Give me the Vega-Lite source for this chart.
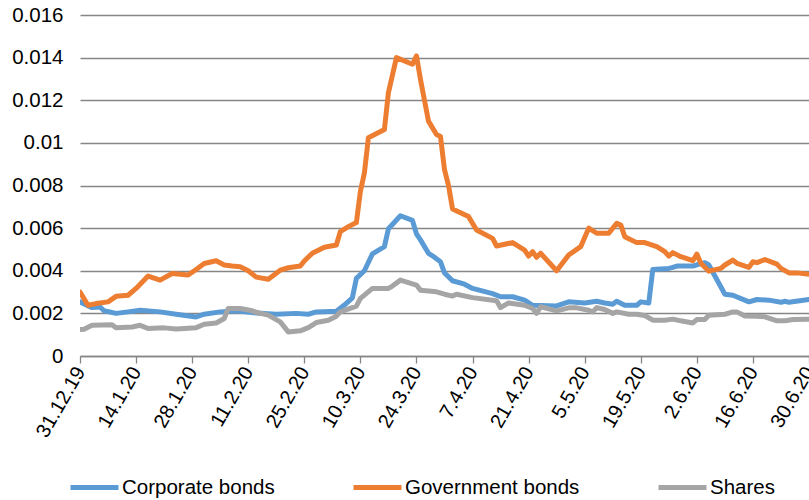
{
  "$schema": "https://vega.github.io/schema/vega-lite/v6.json",
  "autosize": "none",
  "width": 729,
  "height": 341,
  "padding": {"left": 80, "top": 15, "right": 0, "bottom": 144},
  "background": "white",
  "config": {
    "view": {"stroke": null},
    "font": "Liberation Sans"
  },
  "data": {"values": [
    {"date": "2019-12-31", "series": "Corporate bonds", "value": 0.00254},
    {"date": "2020-01-03", "series": "Corporate bonds", "value": 0.00227},
    {"date": "2020-01-05", "series": "Corporate bonds", "value": 0.0023},
    {"date": "2020-01-06", "series": "Corporate bonds", "value": 0.00212},
    {"date": "2020-01-09", "series": "Corporate bonds", "value": 0.002},
    {"date": "2020-01-12", "series": "Corporate bonds", "value": 0.00207},
    {"date": "2020-01-15", "series": "Corporate bonds", "value": 0.00215},
    {"date": "2020-01-20", "series": "Corporate bonds", "value": 0.00207},
    {"date": "2020-01-24", "series": "Corporate bonds", "value": 0.00196},
    {"date": "2020-01-29", "series": "Corporate bonds", "value": 0.00183},
    {"date": "2020-01-31", "series": "Corporate bonds", "value": 0.00196},
    {"date": "2020-02-04", "series": "Corporate bonds", "value": 0.00207},
    {"date": "2020-02-08", "series": "Corporate bonds", "value": 0.00212},
    {"date": "2020-02-13", "series": "Corporate bonds", "value": 0.00202},
    {"date": "2020-02-18", "series": "Corporate bonds", "value": 0.00196},
    {"date": "2020-02-23", "series": "Corporate bonds", "value": 0.002},
    {"date": "2020-02-26", "series": "Corporate bonds", "value": 0.00196},
    {"date": "2020-02-28", "series": "Corporate bonds", "value": 0.00207},
    {"date": "2020-03-04", "series": "Corporate bonds", "value": 0.0021},
    {"date": "2020-03-06", "series": "Corporate bonds", "value": 0.00239},
    {"date": "2020-03-08", "series": "Corporate bonds", "value": 0.00273},
    {"date": "2020-03-09", "series": "Corporate bonds", "value": 0.00364},
    {"date": "2020-03-11", "series": "Corporate bonds", "value": 0.004},
    {"date": "2020-03-13", "series": "Corporate bonds", "value": 0.00479},
    {"date": "2020-03-16", "series": "Corporate bonds", "value": 0.00513},
    {"date": "2020-03-17", "series": "Corporate bonds", "value": 0.00597},
    {"date": "2020-03-20", "series": "Corporate bonds", "value": 0.00658},
    {"date": "2020-03-23", "series": "Corporate bonds", "value": 0.00636},
    {"date": "2020-03-24", "series": "Corporate bonds", "value": 0.00573},
    {"date": "2020-03-25", "series": "Corporate bonds", "value": 0.00545},
    {"date": "2020-03-27", "series": "Corporate bonds", "value": 0.00482},
    {"date": "2020-03-28", "series": "Corporate bonds", "value": 0.0047},
    {"date": "2020-03-30", "series": "Corporate bonds", "value": 0.00442},
    {"date": "2020-03-31", "series": "Corporate bonds", "value": 0.0039},
    {"date": "2020-04-02", "series": "Corporate bonds", "value": 0.00353},
    {"date": "2020-04-05", "series": "Corporate bonds", "value": 0.00337},
    {"date": "2020-04-07", "series": "Corporate bonds", "value": 0.00317},
    {"date": "2020-04-12", "series": "Corporate bonds", "value": 0.00293},
    {"date": "2020-04-14", "series": "Corporate bonds", "value": 0.00278},
    {"date": "2020-04-17", "series": "Corporate bonds", "value": 0.00278},
    {"date": "2020-04-20", "series": "Corporate bonds", "value": 0.00262},
    {"date": "2020-04-22", "series": "Corporate bonds", "value": 0.00238},
    {"date": "2020-04-28", "series": "Corporate bonds", "value": 0.00235},
    {"date": "2020-05-01", "series": "Corporate bonds", "value": 0.00254},
    {"date": "2020-05-05", "series": "Corporate bonds", "value": 0.00249},
    {"date": "2020-05-08", "series": "Corporate bonds", "value": 0.00257},
    {"date": "2020-05-10", "series": "Corporate bonds", "value": 0.00249},
    {"date": "2020-05-12", "series": "Corporate bonds", "value": 0.00243},
    {"date": "2020-05-13", "series": "Corporate bonds", "value": 0.00257},
    {"date": "2020-05-15", "series": "Corporate bonds", "value": 0.00238},
    {"date": "2020-05-18", "series": "Corporate bonds", "value": 0.00238},
    {"date": "2020-05-19", "series": "Corporate bonds", "value": 0.00254},
    {"date": "2020-05-21", "series": "Corporate bonds", "value": 0.00249},
    {"date": "2020-05-22", "series": "Corporate bonds", "value": 0.00406},
    {"date": "2020-05-26", "series": "Corporate bonds", "value": 0.00411},
    {"date": "2020-05-27", "series": "Corporate bonds", "value": 0.00416},
    {"date": "2020-05-28", "series": "Corporate bonds", "value": 0.00422},
    {"date": "2020-06-01", "series": "Corporate bonds", "value": 0.00422},
    {"date": "2020-06-02", "series": "Corporate bonds", "value": 0.00428},
    {"date": "2020-06-04", "series": "Corporate bonds", "value": 0.00438},
    {"date": "2020-06-05", "series": "Corporate bonds", "value": 0.00427},
    {"date": "2020-06-09", "series": "Corporate bonds", "value": 0.0029},
    {"date": "2020-06-11", "series": "Corporate bonds", "value": 0.00285},
    {"date": "2020-06-15", "series": "Corporate bonds", "value": 0.00254},
    {"date": "2020-06-17", "series": "Corporate bonds", "value": 0.00265},
    {"date": "2020-06-20", "series": "Corporate bonds", "value": 0.00262},
    {"date": "2020-06-23", "series": "Corporate bonds", "value": 0.00252},
    {"date": "2020-06-24", "series": "Corporate bonds", "value": 0.00257},
    {"date": "2020-06-25", "series": "Corporate bonds", "value": 0.00252},
    {"date": "2020-06-30", "series": "Corporate bonds", "value": 0.00265},

    {"date": "2019-12-31", "series": "Government bonds", "value": 0.003},
    {"date": "2020-01-02", "series": "Government bonds", "value": 0.00238},
    {"date": "2020-01-04", "series": "Government bonds", "value": 0.00246},
    {"date": "2020-01-07", "series": "Government bonds", "value": 0.00254},
    {"date": "2020-01-09", "series": "Government bonds", "value": 0.0028},
    {"date": "2020-01-12", "series": "Government bonds", "value": 0.00285},
    {"date": "2020-01-14", "series": "Government bonds", "value": 0.00317},
    {"date": "2020-01-17", "series": "Government bonds", "value": 0.00375},
    {"date": "2020-01-20", "series": "Government bonds", "value": 0.00356},
    {"date": "2020-01-23", "series": "Government bonds", "value": 0.00387},
    {"date": "2020-01-27", "series": "Government bonds", "value": 0.0038},
    {"date": "2020-01-29", "series": "Government bonds", "value": 0.00406},
    {"date": "2020-01-31", "series": "Government bonds", "value": 0.00434},
    {"date": "2020-02-03", "series": "Government bonds", "value": 0.00447},
    {"date": "2020-02-05", "series": "Government bonds", "value": 0.00427},
    {"date": "2020-02-07", "series": "Government bonds", "value": 0.00422},
    {"date": "2020-02-09", "series": "Government bonds", "value": 0.00419},
    {"date": "2020-02-11", "series": "Government bonds", "value": 0.004},
    {"date": "2020-02-13", "series": "Government bonds", "value": 0.0037},
    {"date": "2020-02-16", "series": "Government bonds", "value": 0.0036},
    {"date": "2020-02-18", "series": "Government bonds", "value": 0.00388},
    {"date": "2020-02-19", "series": "Government bonds", "value": 0.00403},
    {"date": "2020-02-21", "series": "Government bonds", "value": 0.00414},
    {"date": "2020-02-24", "series": "Government bonds", "value": 0.00422},
    {"date": "2020-02-25", "series": "Government bonds", "value": 0.00446},
    {"date": "2020-02-27", "series": "Government bonds", "value": 0.00482},
    {"date": "2020-03-01", "series": "Government bonds", "value": 0.0051},
    {"date": "2020-03-04", "series": "Government bonds", "value": 0.00521},
    {"date": "2020-03-05", "series": "Government bonds", "value": 0.00584},
    {"date": "2020-03-07", "series": "Government bonds", "value": 0.00607},
    {"date": "2020-03-09", "series": "Government bonds", "value": 0.00626},
    {"date": "2020-03-10", "series": "Government bonds", "value": 0.00772},
    {"date": "2020-03-11", "series": "Government bonds", "value": 0.00859},
    {"date": "2020-03-12", "series": "Government bonds", "value": 0.01024},
    {"date": "2020-03-16", "series": "Government bonds", "value": 0.01063},
    {"date": "2020-03-17", "series": "Government bonds", "value": 0.01236},
    {"date": "2020-03-19", "series": "Government bonds", "value": 0.014},
    {"date": "2020-03-23", "series": "Government bonds", "value": 0.01369},
    {"date": "2020-03-24", "series": "Government bonds", "value": 0.01408},
    {"date": "2020-03-25", "series": "Government bonds", "value": 0.01298},
    {"date": "2020-03-27", "series": "Government bonds", "value": 0.01102},
    {"date": "2020-03-29", "series": "Government bonds", "value": 0.01039},
    {"date": "2020-03-30", "series": "Government bonds", "value": 0.0103},
    {"date": "2020-03-31", "series": "Government bonds", "value": 0.00874},
    {"date": "2020-04-01", "series": "Government bonds", "value": 0.008},
    {"date": "2020-04-02", "series": "Government bonds", "value": 0.0069},
    {"date": "2020-04-06", "series": "Government bonds", "value": 0.00654},
    {"date": "2020-04-08", "series": "Government bonds", "value": 0.00591},
    {"date": "2020-04-12", "series": "Government bonds", "value": 0.00552},
    {"date": "2020-04-13", "series": "Government bonds", "value": 0.00516},
    {"date": "2020-04-17", "series": "Government bonds", "value": 0.00532},
    {"date": "2020-04-20", "series": "Government bonds", "value": 0.00497},
    {"date": "2020-04-21", "series": "Government bonds", "value": 0.00469},
    {"date": "2020-04-22", "series": "Government bonds", "value": 0.0049},
    {"date": "2020-04-23", "series": "Government bonds", "value": 0.00463},
    {"date": "2020-04-24", "series": "Government bonds", "value": 0.00482},
    {"date": "2020-04-28", "series": "Government bonds", "value": 0.004},
    {"date": "2020-05-01", "series": "Government bonds", "value": 0.00474},
    {"date": "2020-05-04", "series": "Government bonds", "value": 0.00513},
    {"date": "2020-05-06", "series": "Government bonds", "value": 0.006},
    {"date": "2020-05-08", "series": "Government bonds", "value": 0.00576},
    {"date": "2020-05-11", "series": "Government bonds", "value": 0.00576},
    {"date": "2020-05-13", "series": "Government bonds", "value": 0.00623},
    {"date": "2020-05-14", "series": "Government bonds", "value": 0.00615},
    {"date": "2020-05-15", "series": "Government bonds", "value": 0.0056},
    {"date": "2020-05-18", "series": "Government bonds", "value": 0.00532},
    {"date": "2020-05-20", "series": "Government bonds", "value": 0.00532},
    {"date": "2020-05-23", "series": "Government bonds", "value": 0.00513},
    {"date": "2020-05-25", "series": "Government bonds", "value": 0.0049},
    {"date": "2020-05-26", "series": "Government bonds", "value": 0.00469},
    {"date": "2020-05-27", "series": "Government bonds", "value": 0.00485},
    {"date": "2020-05-29", "series": "Government bonds", "value": 0.00466},
    {"date": "2020-06-01", "series": "Government bonds", "value": 0.00447},
    {"date": "2020-06-02", "series": "Government bonds", "value": 0.00478},
    {"date": "2020-06-03", "series": "Government bonds", "value": 0.00435},
    {"date": "2020-06-05", "series": "Government bonds", "value": 0.00398},
    {"date": "2020-06-08", "series": "Government bonds", "value": 0.00411},
    {"date": "2020-06-09", "series": "Government bonds", "value": 0.00427},
    {"date": "2020-06-11", "series": "Government bonds", "value": 0.0045},
    {"date": "2020-06-12", "series": "Government bonds", "value": 0.00435},
    {"date": "2020-06-15", "series": "Government bonds", "value": 0.00416},
    {"date": "2020-06-16", "series": "Government bonds", "value": 0.00442},
    {"date": "2020-06-17", "series": "Government bonds", "value": 0.00438},
    {"date": "2020-06-19", "series": "Government bonds", "value": 0.00453},
    {"date": "2020-06-22", "series": "Government bonds", "value": 0.00431},
    {"date": "2020-06-23", "series": "Government bonds", "value": 0.00411},
    {"date": "2020-06-25", "series": "Government bonds", "value": 0.0039},
    {"date": "2020-06-27", "series": "Government bonds", "value": 0.0039},
    {"date": "2020-06-30", "series": "Government bonds", "value": 0.00384},

    {"date": "2019-12-31", "series": "Shares", "value": 0.00124},
    {"date": "2020-01-01", "series": "Shares", "value": 0.00126},
    {"date": "2020-01-03", "series": "Shares", "value": 0.00144},
    {"date": "2020-01-08", "series": "Shares", "value": 0.00147},
    {"date": "2020-01-09", "series": "Shares", "value": 0.00133},
    {"date": "2020-01-13", "series": "Shares", "value": 0.00136},
    {"date": "2020-01-15", "series": "Shares", "value": 0.00144},
    {"date": "2020-01-17", "series": "Shares", "value": 0.00129},
    {"date": "2020-01-21", "series": "Shares", "value": 0.00132},
    {"date": "2020-01-24", "series": "Shares", "value": 0.00127},
    {"date": "2020-01-29", "series": "Shares", "value": 0.00133},
    {"date": "2020-01-31", "series": "Shares", "value": 0.00149},
    {"date": "2020-02-03", "series": "Shares", "value": 0.00155},
    {"date": "2020-02-05", "series": "Shares", "value": 0.00176},
    {"date": "2020-02-06", "series": "Shares", "value": 0.00223},
    {"date": "2020-02-09", "series": "Shares", "value": 0.00223},
    {"date": "2020-02-12", "series": "Shares", "value": 0.00212},
    {"date": "2020-02-13", "series": "Shares", "value": 0.00205},
    {"date": "2020-02-16", "series": "Shares", "value": 0.00192},
    {"date": "2020-02-19", "series": "Shares", "value": 0.0016},
    {"date": "2020-02-21", "series": "Shares", "value": 0.00113},
    {"date": "2020-02-24", "series": "Shares", "value": 0.00118},
    {"date": "2020-02-26", "series": "Shares", "value": 0.00133},
    {"date": "2020-02-28", "series": "Shares", "value": 0.00157},
    {"date": "2020-03-02", "series": "Shares", "value": 0.00168},
    {"date": "2020-03-04", "series": "Shares", "value": 0.00187},
    {"date": "2020-03-05", "series": "Shares", "value": 0.00207},
    {"date": "2020-03-09", "series": "Shares", "value": 0.00234},
    {"date": "2020-03-10", "series": "Shares", "value": 0.0027},
    {"date": "2020-03-11", "series": "Shares", "value": 0.00286},
    {"date": "2020-03-13", "series": "Shares", "value": 0.00317},
    {"date": "2020-03-17", "series": "Shares", "value": 0.00317},
    {"date": "2020-03-18", "series": "Shares", "value": 0.00328},
    {"date": "2020-03-20", "series": "Shares", "value": 0.00356},
    {"date": "2020-03-24", "series": "Shares", "value": 0.00333},
    {"date": "2020-03-25", "series": "Shares", "value": 0.00309},
    {"date": "2020-03-29", "series": "Shares", "value": 0.00301},
    {"date": "2020-03-31", "series": "Shares", "value": 0.0029},
    {"date": "2020-04-02", "series": "Shares", "value": 0.00281},
    {"date": "2020-04-03", "series": "Shares", "value": 0.0029},
    {"date": "2020-04-07", "series": "Shares", "value": 0.00274},
    {"date": "2020-04-13", "series": "Shares", "value": 0.00259},
    {"date": "2020-04-14", "series": "Shares", "value": 0.00227},
    {"date": "2020-04-16", "series": "Shares", "value": 0.00249},
    {"date": "2020-04-20", "series": "Shares", "value": 0.00238},
    {"date": "2020-04-22", "series": "Shares", "value": 0.00223},
    {"date": "2020-04-23", "series": "Shares", "value": 0.002},
    {"date": "2020-04-24", "series": "Shares", "value": 0.00231},
    {"date": "2020-04-28", "series": "Shares", "value": 0.00212},
    {"date": "2020-05-01", "series": "Shares", "value": 0.00226},
    {"date": "2020-05-03", "series": "Shares", "value": 0.00226},
    {"date": "2020-05-06", "series": "Shares", "value": 0.00215},
    {"date": "2020-05-07", "series": "Shares", "value": 0.00207},
    {"date": "2020-05-08", "series": "Shares", "value": 0.00227},
    {"date": "2020-05-10", "series": "Shares", "value": 0.00218},
    {"date": "2020-05-12", "series": "Shares", "value": 0.002},
    {"date": "2020-05-13", "series": "Shares", "value": 0.00207},
    {"date": "2020-05-16", "series": "Shares", "value": 0.00196},
    {"date": "2020-05-18", "series": "Shares", "value": 0.00196},
    {"date": "2020-05-20", "series": "Shares", "value": 0.0019},
    {"date": "2020-05-22", "series": "Shares", "value": 0.00168},
    {"date": "2020-05-25", "series": "Shares", "value": 0.00168},
    {"date": "2020-05-27", "series": "Shares", "value": 0.00173},
    {"date": "2020-05-29", "series": "Shares", "value": 0.00165},
    {"date": "2020-06-01", "series": "Shares", "value": 0.00155},
    {"date": "2020-06-02", "series": "Shares", "value": 0.00171},
    {"date": "2020-06-04", "series": "Shares", "value": 0.00171},
    {"date": "2020-06-05", "series": "Shares", "value": 0.00191},
    {"date": "2020-06-09", "series": "Shares", "value": 0.00196},
    {"date": "2020-06-11", "series": "Shares", "value": 0.00207},
    {"date": "2020-06-12", "series": "Shares", "value": 0.00207},
    {"date": "2020-06-14", "series": "Shares", "value": 0.00188},
    {"date": "2020-06-17", "series": "Shares", "value": 0.00187},
    {"date": "2020-06-19", "series": "Shares", "value": 0.00184},
    {"date": "2020-06-22", "series": "Shares", "value": 0.00165},
    {"date": "2020-06-24", "series": "Shares", "value": 0.00165},
    {"date": "2020-06-26", "series": "Shares", "value": 0.00171},
    {"date": "2020-06-30", "series": "Shares", "value": 0.00173}
  ]},
  "mark": {"type": "line", "strokeWidth": 5, "strokeJoin": "round", "strokeCap": "round", "clip": true},
  "encoding": {
    "x": {
      "field": "date",
      "type": "temporal",
      "scale": {
        "type": "utc",
        "domain": [
          {"year": 2019, "month": 12, "date": 31, "utc": true},
          {"year": 2020, "month": 6, "date": 30, "utc": true}
        ]
      },
      "axis": {
        "title": null,
        "values": [
          {"year": 2019, "month": 12, "date": 31, "utc": true},
          {"year": 2020, "month": 1, "date": 14, "utc": true},
          {"year": 2020, "month": 1, "date": 28, "utc": true},
          {"year": 2020, "month": 2, "date": 11, "utc": true},
          {"year": 2020, "month": 2, "date": 25, "utc": true},
          {"year": 2020, "month": 3, "date": 10, "utc": true},
          {"year": 2020, "month": 3, "date": 24, "utc": true},
          {"year": 2020, "month": 4, "date": 7, "utc": true},
          {"year": 2020, "month": 4, "date": 21, "utc": true},
          {"year": 2020, "month": 5, "date": 5, "utc": true},
          {"year": 2020, "month": 5, "date": 19, "utc": true},
          {"year": 2020, "month": 6, "date": 2, "utc": true},
          {"year": 2020, "month": 6, "date": 16, "utc": true},
          {"year": 2020, "month": 6, "date": 30, "utc": true}
        ],
        "labelExpr": "utcFormat(datum.value, '%-d.%-m.%y')",
        "labelAngle": -60,
        "labelAlign": "right",
        "labelBaseline": "middle",
        "labelFontSize": 20,
        "labelColor": "#000000",
        "labelPadding": 5,
        "labelOverlap": false,
        "labelBound": false,
        "labelFlush": false,
        "grid": false,
        "domainColor": "#868686",
        "domainWidth": 1.3,
        "tickColor": "#868686",
        "tickWidth": 1.3,
        "tickSize": 7
      }
    },
    "y": {
      "field": "value",
      "type": "quantitative",
      "scale": {"domain": [0, 0.016], "nice": false},
      "axis": {
        "title": null,
        "values": [0, 0.002, 0.004, 0.006, 0.008, 0.01, 0.012, 0.014, 0.016],
        "format": "~g",
        "labelFontSize": 20.5,
        "labelColor": "#000000",
        "labelPadding": 17,
        "ticks": false,
        "domain": false,
        "grid": true,
        "gridColor": "#868686",
        "gridWidth": 1.3
      }
    },
    "color": {
      "field": "series",
      "type": "nominal",
      "scale": {
        "domain": ["Corporate bonds", "Government bonds", "Shares"],
        "range": ["#5B9BD5", "#ED7D31", "#A5A5A5"]
      },
      "legend": {
        "title": null,
        "orient": "none",
        "direction": "horizontal",
        "legendX": -12,
        "legendY": 446,
        "padding": 0,
        "symbolType": "stroke",
        "symbolSize": 2304,
        "symbolStrokeWidth": 5,
        "labelFontSize": 20.5,
        "labelColor": "#000000",
        "labelOffset": 1,
        "columnPadding": 68,
        "labelLimit": 400
      }
    }
  }
}
